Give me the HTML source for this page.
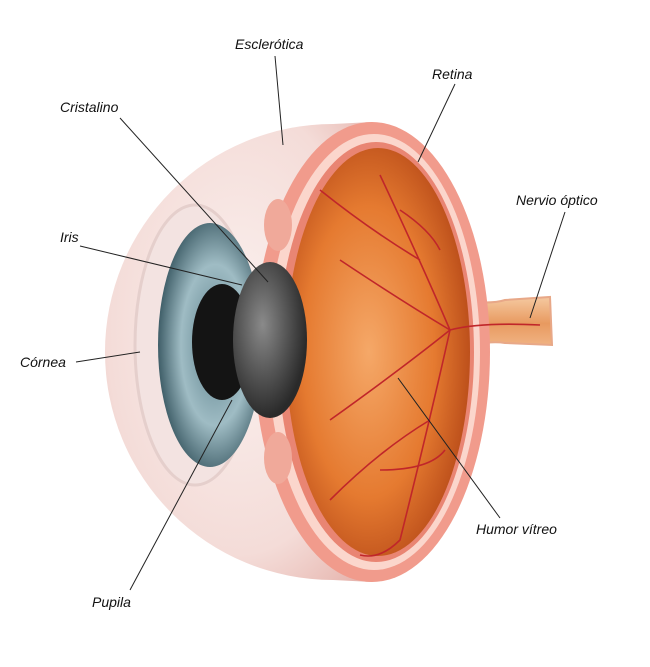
<!DOCTYPE html>
<html><head><meta charset="utf-8"><style>
html,body{margin:0;padding:0;background:#fff;}
svg{display:block;}
text{font-family:"Liberation Sans",sans-serif;font-style:italic;font-size:14px;fill:#111;}
</style></head><body>
<svg width="650" height="667" viewBox="0 0 650 667" xmlns="http://www.w3.org/2000/svg">
<defs>
<radialGradient id="ball" cx="0.5" cy="0.45" r="0.7">
<stop offset="0" stop-color="#fbf1ef"/><stop offset="0.7" stop-color="#f4dcd8"/><stop offset="1" stop-color="#e6b5ae"/>
</radialGradient>
<radialGradient id="inner" cx="0.45" cy="0.5" r="0.65">
<stop offset="0" stop-color="#f5a868"/><stop offset="0.55" stop-color="#e57a30"/><stop offset="1" stop-color="#a83a10"/>
</radialGradient>
<radialGradient id="iris" cx="0.55" cy="0.5" r="0.55">
<stop offset="0" stop-color="#5b7f8a"/><stop offset="0.6" stop-color="#9fbcc4"/><stop offset="1" stop-color="#3f5e68"/>
</radialGradient>
<radialGradient id="lens" cx="0.4" cy="0.4" r="0.6">
<stop offset="0" stop-color="#8a8a8a"/><stop offset="1" stop-color="#2a2a2a"/>
</radialGradient>
<linearGradient id="nerve" x1="0" y1="0" x2="0" y2="1">
<stop offset="0" stop-color="#f5c9a0"/><stop offset="0.5" stop-color="#e89a60"/><stop offset="1" stop-color="#f2b88a"/>
</linearGradient>
</defs>
<!-- optic nerve -->
<path d="M455 300 Q490 305 505 300 L550 297 L552 345 L505 343 Q485 340 455 350 Z" fill="url(#nerve)" stroke="#e8a888" stroke-width="2"/>
<!-- eyeball left part -->
<path d="M372 122 L333 124 A228 228 0 0 0 333 580 L372 582 Z" fill="url(#ball)"/>
<!-- cornea bulge -->
<ellipse cx="195" cy="345" rx="60" ry="140" fill="#f3e3e1" stroke="#e5cfcc" stroke-width="3"/>
<!-- section rim -->
<ellipse cx="372" cy="352" rx="118" ry="230" fill="#f19b8c"/>
<ellipse cx="374" cy="352" rx="106" ry="218" fill="#fbd6cc"/>
<ellipse cx="376" cy="352" rx="98" ry="210" fill="#e98573"/>
<ellipse cx="378" cy="352" rx="92" ry="204" fill="url(#inner)"/>
<!-- iris -->
<ellipse cx="210" cy="345" rx="52" ry="122" fill="url(#iris)"/>
<ellipse cx="222" cy="342" rx="30" ry="58" fill="#141414"/>
<!-- ciliary bodies -->
<ellipse cx="278" cy="225" rx="14" ry="26" fill="#f0a99a"/>
<ellipse cx="278" cy="458" rx="14" ry="26" fill="#f0a99a"/>
<!-- lens -->
<ellipse cx="270" cy="340" rx="37" ry="78" fill="url(#lens)"/>
<!-- vessels -->
<g stroke="#c0262a" stroke-width="1.6" fill="none">
<path d="M540 325 Q480 322 450 330 Q420 260 380 175"/>
<path d="M450 330 Q430 420 400 540 Q380 560 360 555"/>
<path d="M450 330 Q400 300 340 260"/>
<path d="M450 330 Q400 370 330 420"/>
<path d="M420 260 Q370 230 320 190"/>
<path d="M430 420 Q380 450 330 500"/>
<path d="M400 210 Q430 230 440 250"/>
<path d="M380 470 Q430 470 445 450"/>
</g>
<!-- leader lines -->
<g stroke="#222" stroke-width="1">
<line x1="275" y1="56" x2="283" y2="145"/>
<line x1="455" y1="84" x2="418" y2="162"/>
<line x1="120" y1="118" x2="268" y2="282"/>
<line x1="565" y1="212" x2="530" y2="318"/>
<line x1="80" y1="246" x2="242" y2="285"/>
<line x1="76" y1="362" x2="140" y2="352"/>
<line x1="500" y1="518" x2="398" y2="378"/>
<line x1="130" y1="590" x2="232" y2="400"/>
</g>
<text x="235" y="49">Esclerótica</text>
<text x="432" y="79">Retina</text>
<text x="60" y="112">Cristalino</text>
<text x="516" y="205">Nervio óptico</text>
<text x="60" y="242">Iris</text>
<text x="20" y="367">Córnea</text>
<text x="476" y="534">Humor vítreo</text>
<text x="92" y="607">Pupila</text>
</svg>
</body></html>
